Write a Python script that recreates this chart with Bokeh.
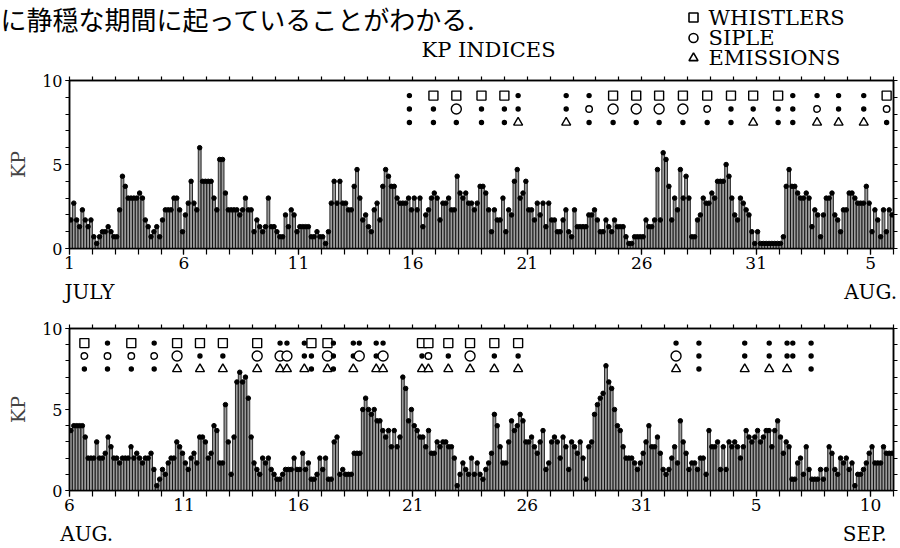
from bokeh.plotting import figure
from bokeh.models import Range1d, LinearAxis, FixedTicker, ColumnDataSource
from bokeh.layouts import column
from bokeh.embed import file_html
from bokeh.resources import INLINE
from bokeh.core.properties import value

SERIF = "DejaVu Serif"

# ---------------- data ----------------
# 3-hourly KP, July 1 .. Aug 5 (8 values per day)
kp_jul = [
    1.7, 2.7, 1.7, 1.3, 2.3, 1.7, 1.3, 1.7,
    0.7, 0.3, 0.7, 1.0, 1.0, 1.3, 1.0, 0.7,
    0.7, 2.3, 4.3, 3.7, 3.0, 3.0, 3.0, 3.0,
    3.3, 3.0, 1.7, 1.3, 0.7, 1.0, 1.3, 0.7,
    1.7, 2.3, 2.3, 2.3, 3.0, 3.0, 2.3, 1.0,
    2.0, 2.7, 4.0, 2.7, 2.3, 6.0, 4.0, 4.0,
    4.0, 4.0, 3.0, 2.3, 5.3, 5.3, 3.3, 2.3,
    2.3, 2.3, 2.3, 2.0, 2.3, 3.0, 2.3, 2.3,
    1.0, 1.7, 1.3, 1.0, 1.3, 3.0, 1.3, 1.3,
    1.0, 0.7, 0.7, 2.0, 1.3, 2.3, 2.0, 1.0,
    1.3, 1.3, 1.3, 1.3, 0.7, 0.7, 1.0, 0.7,
    0.7, 0.3, 1.0, 2.7, 4.0, 2.7, 4.0, 2.7,
    2.7, 2.3, 2.3, 3.7, 4.7, 3.0, 1.7, 2.0,
    1.3, 1.0, 2.3, 2.7, 1.7, 3.7, 4.7, 4.3,
    3.7, 3.7, 3.0, 2.7, 2.7, 2.7, 3.0, 2.3,
    3.0, 2.3, 3.0, 1.3, 2.0, 2.3, 3.0, 3.3,
    3.0, 1.7, 2.7, 2.7, 3.0, 2.3, 2.3, 4.3,
    3.3, 3.0, 3.3, 2.7, 2.7, 2.3, 2.7, 3.7,
    3.7, 3.3, 2.3, 1.0, 2.3, 1.7, 1.7, 3.0,
    1.0, 2.3, 2.0, 4.0, 4.7, 3.0, 3.3, 4.0,
    2.3, 2.3, 1.7, 2.7, 2.0, 2.7, 1.3, 2.7,
    1.7, 1.7, 1.0, 1.0, 1.7, 2.3, 1.0, 0.7,
    2.3, 1.3, 1.3, 1.3, 1.3, 2.0, 2.0, 2.3,
    1.7, 1.0, 1.0, 1.7, 1.3, 1.0, 1.7, 1.3,
    1.3, 1.3, 0.7, 0.3, 0.3, 0.7, 0.7, 0.7,
    0.7, 1.7, 1.3, 1.3, 1.7, 4.7, 1.7, 5.7,
    5.3, 3.7, 1.7, 3.0, 2.3, 4.7, 3.0, 4.3,
    3.0, 0.7, 0.7, 1.7, 2.0, 3.0, 2.7, 2.7,
    3.3, 3.0, 4.0, 4.0, 4.0, 5.0, 4.3, 3.0,
    2.0, 1.7, 3.0, 2.7, 2.3, 2.0, 1.0, 0.3,
    1.0, 0.3, 0.3, 0.3, 0.3, 0.3, 0.3, 0.3,
    0.3, 0.7, 3.7, 4.7, 3.7, 3.7, 3.3, 3.0,
    3.0, 3.3, 3.0, 1.3, 2.3, 2.0, 0.7, 2.0,
    3.0, 3.0, 3.3, 2.0, 1.7, 1.0, 2.3, 2.3,
    3.3, 3.3, 3.0, 2.7, 2.7, 2.7, 3.7, 2.7,
    1.0, 2.3, 1.7, 0.7, 2.3, 1.0, 2.3, 2.0,
]
# 3-hourly KP, Aug 6 .. Sep 10
kp_aug = [
    3.7, 4.0, 4.0, 4.0, 4.0, 3.3, 2.0, 2.0,
    2.0, 3.0, 2.0, 2.0, 2.3, 3.3, 2.7, 2.0,
    2.0, 1.7, 2.0, 2.0, 2.0, 2.7, 2.0, 2.3,
    2.0, 1.7, 2.0, 2.0, 2.3, 1.3, 0.3, 0.7,
    1.3, 1.0, 1.7, 2.0, 2.0, 3.0, 2.7, 2.3,
    1.7, 1.3, 2.0, 2.3, 1.7, 3.3, 3.3, 3.0,
    2.0, 2.3, 4.0, 3.7, 1.7, 1.7, 5.3, 3.0,
    1.0, 3.3, 6.7, 7.3, 6.7, 7.0, 5.7, 3.3,
    1.7, 1.3, 1.0, 2.0, 1.7, 2.0, 1.3, 1.0,
    0.7, 0.7, 1.0, 1.3, 1.3, 1.3, 2.0, 1.3,
    1.3, 2.3, 1.3, 1.7, 0.7, 0.7, 1.0, 2.0,
    1.3, 2.0, 0.7, 0.7, 3.0, 3.3, 1.0, 1.3,
    1.0, 1.0, 1.0, 2.3, 2.3, 2.3, 5.0, 5.7,
    5.0, 4.7, 5.0, 4.3, 4.3, 3.7, 3.3, 3.7,
    2.7, 3.7, 2.7, 3.3, 7.0, 6.3, 4.3, 5.0,
    4.0, 3.7, 3.3, 3.3, 2.7, 3.7, 2.3, 2.3,
    3.0, 2.7, 3.0, 3.0, 2.7, 2.7, 2.0, 0.3,
    1.0, 1.7, 1.3, 1.0, 2.0, 1.0, 1.7, 1.0,
    0.7, 1.3, 1.7, 2.3, 4.7, 4.0, 2.7, 1.7,
    1.7, 3.0, 4.3, 3.7, 4.0, 4.7, 4.3, 3.0,
    3.0, 3.3, 2.7, 2.3, 3.0, 3.7, 1.3, 1.7,
    3.0, 3.3, 3.0, 2.0, 3.3, 2.7, 1.3, 3.0,
    2.7, 2.3, 3.0, 2.0, 0.7, 2.7, 3.0, 4.7,
    5.3, 5.7, 6.0, 7.7, 6.7, 6.3, 5.0, 4.0,
    3.7, 2.7, 2.0, 2.0, 2.0, 1.7, 1.3, 1.7,
    2.3, 3.0, 4.0, 2.7, 2.7, 3.3, 2.3, 1.3,
    1.0, 1.3, 2.0, 2.7, 1.7, 4.3, 3.0, 2.3,
    1.3, 1.7, 1.7, 1.3, 2.0, 2.0, 1.0, 3.7,
    2.7, 2.7, 3.0, 1.3, 2.7, 1.3, 3.0, 2.7,
    3.0, 2.7, 2.0, 2.7, 3.7, 3.3, 3.0, 3.3,
    3.7, 3.0, 3.3, 3.7, 3.7, 2.7, 3.7, 4.3,
    3.3, 2.3, 3.0, 2.7, 0.7, 0.7, 1.7, 2.0,
    1.0, 2.7, 1.3, 0.7, 0.7, 0.7, 1.3, 0.7,
    1.3, 2.7, 2.3, 1.3, 1.0, 2.0, 1.7, 2.0,
    1.3, 1.7, 0.3, 1.0, 1.0, 1.3, 1.7, 2.3,
    2.7, 1.7, 1.7, 1.7, 2.7, 2.3, 2.3, 2.3,
]

# observation days (day of July) and symbols: s=square, C=large circle,
# o=small circle, d=dot, t=triangle, -=none
jul_event_day = [15.85, 16.9, 17.9, 19.0, 20.0, 20.6, 22.7, 23.7, 24.75, 25.76,
                 26.76, 27.8, 28.86, 29.9, 30.87, 31.96, 32.6, 33.66, 34.6, 35.7, 36.7]
jul_whistlers = "d s s s s d d d s s s s s s s s d d d d s".split()
jul_siple     = "d d C d d d d o C C C C o d d d d o d d o".split()
jul_emissions = "d d d d d t t d d d d d d d t d d t t t d".split()

# observation days (day of August; Sep n = 31 + n)
aug_event_day = [6.65, 7.66, 8.7, 9.7, 10.7, 11.7, 12.7, 14.2, 15.2, 15.5, 16.26,
                 16.57, 17.27, 17.53, 18.4, 18.66, 19.4, 19.7, 21.4, 21.68, 22.55,
                 23.5, 24.56, 25.6, 32.5, 33.5, 35.5, 36.57, 37.35, 37.6, 38.4]
aug_whistlers = "s d s d s s s s d d d s s d d d d d s s s s s s d d d d d d d".split()
aug_siple     = "o o o o C d d C C C d d C d d C d C d o d C d d C d d d d d d".split()
aug_emissions = "d d d d t t t t t t t d t d t - t t t t t t t t t d t t t - d".split()

jul_ticks = [1, 6, 11, 16, 21, 26, 31, 36]
jul_labels = ["1", "6", "11", "16", "21", "26", "31", "5"]
aug_ticks = [6, 11, 16, 21, 26, 31, 36, 41]
aug_labels = ["6", "11", "16", "21", "26", "31", "5", "10"]

legend_names = ["WHISTLERS", "SIPLE", "EMISSIONS"]
legend_markers = ["square", "circle", "triangle"]

# ---------------- styles ----------------
STYLE = {
    "s": ("square", 9, "white"),
    "C": ("circle", 10, "white"),
    "o": ("circle", 6.5, "white"),
    "d": ("circle", 4, "black"),
    "t": ("triangle", 9, "white"),
}
ROW_Y = [9.1, 8.3, 7.5]


def style_axis(ax, size="16px"):
    ax.major_label_text_font = SERIF
    ax.major_label_text_font_size = size
    ax.major_label_text_color = "black"
    ax.axis_line_color = "black"
    ax.axis_line_width = 1.5
    ax.major_tick_line_color = "black"
    ax.minor_tick_line_color = "black"
    ax.major_tick_line_width = 1.2
    ax.minor_tick_line_width = 1.2


def panel(height, top_border, bottom_border, x0, kp, ticks, labels,
          ev_day, rows, month_pos, month_names, month_standoff):
    p = figure(width=900, height=height, x_range=Range1d(x0, x0 + 36),
               y_range=Range1d(0, 10), output_backend="svg", toolbar_location=None,
               min_border_left=69, min_border_right=7, min_border_top=top_border,
               min_border_bottom=bottom_border)
    p.grid.visible = False
    p.outline_line_color = "black"
    p.outline_line_width = 1.5
    p.background_fill_color = "white"
    p.border_fill_color = "white"

    xs = [x0 + (i + 0.5) / 8 for i in range(len(kp))]
    src = ColumnDataSource(dict(x=xs, top=kp))
    p.vbar(x="x", top="top", width=1 / 8, bottom=0, source=src,
           fill_color="#9c9c9c", line_color="black", line_width=0.8)
    p.scatter(x="x", y="top", source=src, size=4.5, marker="circle",
              color="black")

    ex, ey, em, es, ef = [], [], [], [], []
    for codes, ry in zip(rows, ROW_Y):
        for d, c in zip(ev_day, codes):
            if c == "-":
                continue
            m, s, f = STYLE[c]
            ex.append(d); ey.append(ry); em.append(m); es.append(s); ef.append(f)
    esrc = ColumnDataSource(dict(x=ex, y=ey, marker=em, size=es, fill=ef))
    p.scatter(x="x", y="y", marker="marker", size="size", fill_color="fill",
              line_color="black", line_width=1.4, source=esrc)

    # bottom axis
    xa = p.below[0]
    xa.ticker = FixedTicker(ticks=ticks, minor_ticks=list(range(x0, x0 + 37)))
    xa.major_label_overrides = {t: l for t, l in zip(ticks, labels)}
    style_axis(xa, "17px")
    xa.major_tick_out = 6
    xa.major_tick_in = 0
    xa.minor_tick_out = 6
    xa.minor_tick_in = 0
    xa.major_label_standoff = 2

    # month names under the day numbers
    ma = LinearAxis(ticker=FixedTicker(ticks=month_pos, minor_ticks=[]),
                    major_label_overrides={t: n for t, n in zip(month_pos, month_names)})
    style_axis(ma, "20px")
    ma.axis_line_color = None
    ma.major_tick_line_color = None
    ma.minor_tick_line_color = None
    ma.major_tick_out = 0
    ma.major_label_standoff = month_standoff
    p.add_layout(ma, "below")

    # left axis
    ya = p.left[0]
    ya.ticker = FixedTicker(ticks=[0, 5, 10], minor_ticks=list(range(11)))
    style_axis(ya)
    ya.major_tick_out = 4
    ya.major_tick_in = 0
    ya.minor_tick_out = 4
    ya.minor_tick_in = 0
    ya.major_label_standoff = 3
    ya.axis_label = "KP"
    ya.axis_label_text_font = SERIF
    ya.axis_label_text_font_size = "19px"
    ya.axis_label_text_font_style = "normal"
    ya.axis_label_standoff = 10

    # right axis (ticks only)
    ra = LinearAxis(ticker=FixedTicker(ticks=[], minor_ticks=list(range(11))))
    style_axis(ra)
    ra.minor_tick_out = 4
    ra.minor_tick_in = 0
    ra.major_label_standoff = 0
    p.add_layout(ra, "right")

    # top axis (ticks only)
    ta = LinearAxis(ticker=FixedTicker(ticks=[], minor_ticks=list(range(x0, x0 + 37))))
    style_axis(ta)
    ta.minor_tick_out = 4
    ta.minor_tick_in = 0
    ta.major_label_standoff = 0
    p.add_layout(ta, "above")
    return p


# ---------------- header (own frame over the whole strip, pixel-like ranges) ----------------
HEAD_H = 70
TOP_H = 236
head = figure(width=900, height=HEAD_H, x_range=Range1d(0, 900), y_range=Range1d(HEAD_H, 0),
              output_backend="svg", toolbar_location=None, min_border=0,
              x_axis_location=None, y_axis_location=None)
if "frame_align" in head.properties():
    head.frame_align = False
head.grid.visible = False
head.outline_line_color = None
head.text(x=[0], y=[-1], text=["に静穏な期間に起っていることがわかる."],
          text_font=value("Noto Sans CJK JP"), text_font_size=value("26px"),
          text_baseline="top", text_align="left", text_color="black")
head.text(x=[488], y=[49], text=["KP INDICES"], text_font=value(SERIF),
          text_font_size=value("21px"), text_baseline="middle", text_align="center",
          text_color="black")
head.scatter(x=[693, 693, 693], y=[17, 37.5, 57.5], marker=legend_markers,
             size=9, fill_color="white", line_color="black", line_width=1.6)
head.text(x=[708, 708, 708], y=[17, 37.5, 57.5], text=legend_names, text_font=value(SERIF),
          text_font_size=value("21px"), text_baseline="middle", text_align="left",
          text_color="black")

# top panel frame: y 80..248 px ; bottom panel frame: y 328..490 px
top = panel(TOP_H, 80 - HEAD_H, HEAD_H + TOP_H - 248, 1, kp_jul, jul_ticks, jul_labels,
            jul_event_day, [jul_whistlers, jul_siple, jul_emissions],
            [1.875, 36], ["JULY", "AUG."], 8)
bot = panel(548 - HEAD_H - TOP_H, 328 - HEAD_H - TOP_H, 58, 6, kp_aug, aug_ticks, aug_labels,
            aug_event_day, [aug_whistlers, aug_siple, aug_emissions],
            [6.75, 40.75], ["AUG.", "SEP."], 8)

layout = column(head, top, bot, spacing=0)
open("out.html", "w").write(file_html(layout, INLINE))
